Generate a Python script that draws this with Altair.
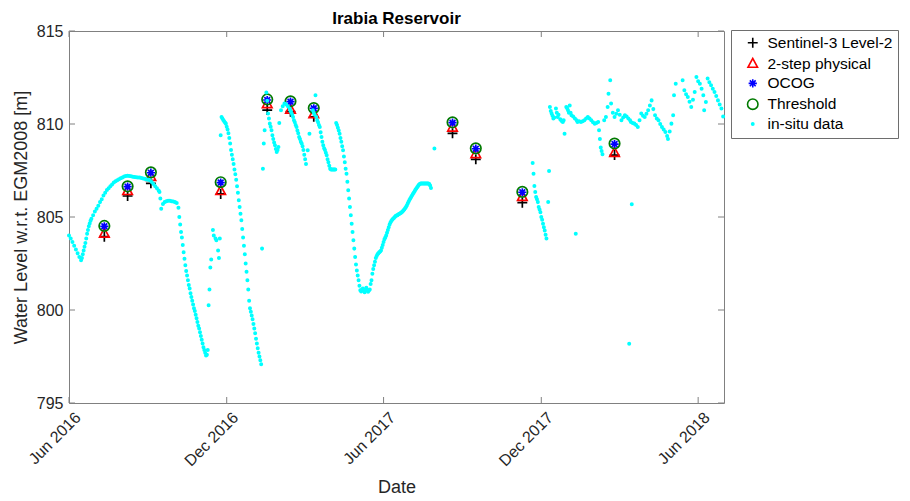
import altair as alt
import pandas as pd

# ---------------- data ----------------
series_names = ["Sentinel-3 Level-2", "2-step physical", "OCOG", "Threshold", "in-situ data"]

sat_dates = ["2016-07-12", "2016-08-08", "2016-09-04", "2016-11-24", "2017-01-17",
             "2017-02-13", "2017-03-12", "2017-08-20", "2017-09-16", "2017-11-09",
             "2018-02-24"]
s3_level2 = [803.94, 806.13, 806.81, 806.24, 810.75, 810.66, 810.39, 809.50, 808.10, 805.77, 808.33]
two_step = [804.12, 806.41, 807.17, 806.41, 811.08, 810.79, 810.54, 809.82, 808.39, 806.09, 808.46]
ocog = [804.50, 806.63, 807.38, 806.85, 811.29, 811.20, 810.84, 810.07, 808.67, 806.33, 808.92]
threshold = [804.52, 806.65, 807.40, 806.87, 811.32, 811.22, 810.86, 810.09, 808.69, 806.35, 808.95]

# in-situ gauge: day offset from 2016-06-01 and level [m]
insitu_start = "2016-06-01"
insitu_day = [
    0, 2, 4, 6, 8, 10, 12, 14, 15, 16, 17, 18, 19, 20, 21, 22, 23, 24, 25, 26, 28, 30, 32, 34, 36,
    38, 40, 42, 44, 46, 48, 50, 52, 54, 56, 58, 60, 62, 64, 66, 68, 70, 72, 74, 76, 78, 80, 82, 84,
    86, 88, 90, 92, 94, 96, 98, 100, 102, 104, 105, 106, 107,
    109, 111, 113, 115, 117, 119, 121, 123, 125,
    127, 128, 129, 130, 131, 132, 133, 134, 135, 136, 137, 138, 139, 140, 141, 142, 143, 144, 145,
    146, 147, 148, 149, 150, 151, 152, 153, 154, 155, 156, 157, 158, 159, 160, 161,
    162, 163, 164, 165, 167, 168, 170, 171, 173, 174, 175, 176,
    177, 178, 179, 180, 181, 182, 183, 184, 185, 186, 187, 188, 189, 190, 191, 192, 193, 194, 195,
    196, 197, 198, 199, 200, 201, 202, 203, 204, 205, 206, 207, 208, 209, 210, 211, 212, 213, 214,
    215, 216, 217, 218, 219, 220, 221, 222, 223, 224,
    225, 226, 227, 229, 230, 231, 232, 233, 234, 235, 236, 237, 238, 239, 240, 241, 242, 243, 244,
    246, 248, 250, 252, 254, 256, 257, 258, 259, 260, 261, 262, 263, 264, 265, 266, 267, 268, 269,
    270, 271, 272, 273, 274, 275, 277, 279, 286,
    283, 284, 285, 287, 288, 289, 290, 291, 292, 293, 294, 295, 296, 297, 298, 299, 300, 301, 302,
    303, 304, 305, 306, 307, 308, 309,
    310, 311, 312, 313, 314, 315, 316, 317, 318, 319, 320, 321, 322, 323, 324, 325, 326, 327, 328,
    329, 330, 331, 332, 333, 334, 335, 336, 337, 338, 339, 340, 341, 342, 343, 344, 345, 346, 347,
    348, 349, 350, 351, 352, 353, 354, 355, 356, 357, 358, 359, 360, 361, 362, 363, 364, 365, 366,
    367, 368, 369, 370, 371, 372, 373, 374, 375, 376, 377, 378, 379, 380, 381, 382, 383, 384, 385,
    386, 387, 388, 389, 390, 391, 392, 393, 394, 395, 396, 397, 398, 399, 400, 401, 402, 403, 404,
    405, 406, 407, 408, 409, 410, 411, 412, 413, 414, 415, 416, 417, 418, 419, 420, 424,
    538, 539, 540, 541, 542, 543, 544, 545, 546, 547, 548, 549, 550, 551, 552, 553, 554, 556, 557, 588,
    558, 559, 560, 561, 562, 563, 565, 566, 567, 568, 570, 571, 572, 573, 574, 575, 577, 578, 579,
    580, 581, 582, 583, 585, 587, 589, 590, 592, 594, 596, 598, 600, 602, 604, 606, 608, 610, 612,
    614, 615, 616, 617, 618, 619, 621, 623, 625, 626, 628, 629, 631, 633, 635, 637, 639, 641, 643,
    645, 647, 649, 650, 651, 652, 653, 654, 656, 658, 660, 662, 664, 666, 668, 670, 672, 674, 676,
    678, 680, 682, 684, 686, 688, 690, 692, 694, 695, 697, 699, 701, 702, 704, 712, 714, 716, 718,
    720, 722, 724, 726, 728, 730, 732, 734, 736, 737, 739, 741, 743, 745, 747, 749, 751, 753, 755,
    757, 759,
]
insitu_level = [
    804.00, 803.85, 803.65, 803.45, 803.25, 803.05, 802.85, 802.67, 802.80, 803.00, 803.20, 803.40,
    803.60, 803.85, 804.10, 804.30, 804.50, 804.65, 804.80, 804.90, 805.10, 805.30, 805.45, 805.60,
    805.80, 805.95, 806.15, 806.30, 806.45, 806.55, 806.65, 806.75, 806.85, 806.92, 806.98, 807.03,
    807.08, 807.13, 807.18, 807.20, 807.22, 807.20, 807.19, 807.17, 807.15, 807.14, 807.13, 807.12,
    807.10, 807.07, 807.05, 807.02, 807.00, 806.97, 806.88, 806.77, 806.65, 806.55, 806.42, 806.34,
    806.00, 805.45,
    805.70, 805.80, 805.85, 805.87, 805.87, 805.85, 805.83, 805.80, 805.75,
    805.50, 805.00, 804.60, 804.20, 803.90, 803.50, 803.10, 802.75, 802.40, 802.10, 801.85, 801.60,
    801.35, 801.15, 800.90, 800.70, 800.50, 800.30, 800.10, 799.95, 799.75, 799.55, 799.35, 799.15,
    799.00, 798.80, 798.60, 798.40, 798.20, 798.00, 797.85, 797.70, 797.55, 797.60, 797.85,
    800.25, 801.10, 802.28, 802.71, 804.30, 804.00, 803.85, 803.75, 803.20, 802.80, 803.84, 809.40,
    810.38, 810.30, 810.22, 810.15, 810.08, 810.02, 809.85, 809.70, 809.50, 809.25, 808.95, 808.60,
    808.35, 808.10, 807.85, 807.55, 807.30, 807.00, 806.65, 806.30, 805.90, 805.54, 805.18, 804.82,
    804.35, 803.90, 803.45, 803.00, 802.50, 802.05, 801.60, 801.10, 800.50, 800.10, 799.90, 799.70,
    799.50, 799.25, 799.00, 798.75, 798.45, 798.20, 797.95, 797.70, 797.50, 797.30, 797.08, 803.30,
    807.60, 808.95, 809.66, 811.70, 811.25, 810.56, 810.30, 810.02, 809.85, 809.66, 809.40, 809.20,
    809.00, 808.86, 808.65, 808.50, 808.60, 808.76, 810.05,
    810.74, 810.95, 811.10, 811.05, 810.95, 810.83, 810.70, 810.60, 810.50, 810.38, 810.20, 810.10,
    809.95, 809.84, 809.65, 809.50, 809.30, 809.20, 809.05, 808.95, 808.80, 808.60, 808.35, 808.10,
    807.85, 808.59, 809.48, 811.54,
    810.74, 810.60, 810.50, 810.38, 810.20, 810.10, 809.95, 809.84, 809.55, 809.30, 809.05, 808.86,
    808.70, 808.60, 808.45, 808.32, 808.10, 807.95, 807.75, 807.60, 807.55, 807.55, 807.55, 807.55,
    807.55, 807.55,
    810.05, 809.95, 809.80, 809.65, 809.48, 809.25, 809.05, 808.80, 808.59, 808.25, 807.95, 807.60,
    807.33, 806.90, 806.44, 806.00, 805.54, 805.10, 804.64, 804.20, 803.75, 803.30, 802.85, 802.45,
    802.13, 801.85, 801.60, 801.30, 801.06, 801.00, 801.10, 801.15, 801.05, 800.95, 801.10, 801.20,
    801.05, 800.98, 801.05, 801.10, 801.40, 801.60, 801.95, 802.20, 802.40, 802.60, 802.80, 802.90,
    803.00, 803.05, 803.10, 803.15, 803.20, 803.35, 803.50, 803.65, 803.80, 803.90, 804.00, 804.15,
    804.30, 804.45, 804.60, 804.70, 804.78, 804.85, 804.90, 804.95, 805.00, 805.05, 805.08, 805.10,
    805.13, 805.16, 805.19, 805.22, 805.26, 805.30, 805.35, 805.40, 805.47, 805.54, 805.62, 805.72,
    805.82, 805.92, 806.00, 806.08, 806.16, 806.24, 806.31, 806.38, 806.46, 806.53, 806.60, 806.67,
    806.73, 806.77, 806.80, 806.80, 806.80, 806.80, 806.80, 806.80, 806.80, 806.80, 806.80, 806.80,
    806.78, 806.70, 806.56, 808.68,
    807.90, 807.33, 806.67, 806.35, 806.08, 805.95, 805.80, 805.54, 805.40, 805.25, 805.00, 804.85,
    804.64, 804.45, 804.28, 804.05, 803.84, 805.81, 807.47, 804.10,
    810.92, 810.70, 810.56, 810.45, 810.29, 810.35, 810.83, 810.60, 810.38, 810.50, 810.25, 810.20,
    810.15, 810.11, 810.20, 809.48, 810.92, 810.85, 810.74, 810.60, 811.00, 810.60, 810.47, 810.40,
    810.29, 810.20, 810.11, 810.15, 810.11, 810.15, 810.20, 810.30, 810.38, 810.30, 810.20, 810.10,
    810.02, 810.05, 810.11, 809.66, 809.20, 808.73, 808.55, 808.37, 810.20, 810.38, 810.92, 811.63,
    812.35, 811.10, 810.60, 810.38, 810.55, 810.74, 810.50, 810.20, 810.35, 810.47, 810.40, 810.29,
    798.19, 810.20, 810.11, 805.68, 810.05, 810.02, 809.95, 809.84, 810.20, 810.56, 810.45, 810.38,
    810.55, 810.74, 811.00, 811.27, 810.80, 810.47, 810.30, 810.20, 810.00, 809.84, 809.70, 809.57,
    809.35, 809.20, 809.60, 810.02, 810.47, 811.54, 812.17, 812.35, 811.81, 811.60, 811.45, 811.20,
    810.92, 811.30, 811.72, 812.53, 812.30, 812.17, 811.90, 811.54, 810.74, 811.18, 812.44, 812.25,
    812.08, 811.90, 811.72, 811.50, 811.27, 811.05, 810.83, 810.40, 810.02,
]

x_tick_dates = ["2016-06-01", "2016-12-01", "2017-06-01", "2017-12-01", "2018-06-01"]
y_tick_values = [795, 800, 805, 810, 815]

# ---------------- table ----------------
rows = []
for name, vals in zip(series_names[:4], [s3_level2, two_step, ocog, threshold]):
    for d, v in zip(sat_dates, vals):
        rows.append({"date": d, "level": v, "series": name})
base_day = pd.Timestamp(insitu_start)
for d, v in zip(insitu_day, insitu_level):
    rows.append({"date": (base_day + pd.Timedelta(days=d)).strftime("%Y-%m-%d"),
                 "level": v, "series": series_names[4]})
df = pd.DataFrame(rows)

FONT = "Liberation Sans"
GRAY = "#808080"
W, H = 655, 372


def utc(s):
    t = pd.Timestamp(s)
    return alt.DateTime(year=t.year, month=t.month, date=t.day, utc=True)


x_scale = alt.Scale(type="utc", domain=[utc("2016-06-01"), utc("2018-07-01")])
y_scale = alt.Scale(domain=[795, 815], nice=False, zero=False)

x_enc = alt.X("date:T", scale=x_scale, title="Date",
              axis=alt.Axis(values=[utc(s) for s in x_tick_dates], format="%b %Y",
                            labelAngle=-45, labelAlign="right", labelBaseline="top",
                            labelPadding=6, labelOffset=3, labelOverlap=False, labelFlush=False,
                            titlePadding=10, titleFontSize=18))
y_enc = alt.Y("level:Q", scale=y_scale, title="Water Level w.r.t. EGM2008 [m]",
              axis=alt.Axis(values=y_tick_values, labelPadding=6, titlePadding=6,
                            titleFontSize=18))

legend = alt.Legend(title=None, orient="none", legendX=662, legendY=-1,
                    padding=5, strokeColor="#6e6e6e", fillColor="white",
                    labelFont=FONT, labelFontSize=15.5, labelColor="#000000",
                    rowPadding=2.8, symbolOffset=9, labelOffset=7, symbolSize=121,
                    symbolStrokeWidth=1.6, cornerRadius=0)

# marker outlines, drawn in a [-1, 1] box
plus_path = "M-0.9,0H0.9M0,-0.9V0.9"
tri_path = "M0,-0.95L0.87,0.68L-0.87,0.68Z"
star_path = "M-0.75,0H0.75M0,-0.75V0.75M-0.53,-0.53L0.53,0.53M-0.53,0.53L0.53,-0.53"
ring_path = "M0.95,0A0.95,0.95 0 1,1 -0.95,0A0.95,0.95 0 1,1 0.95,0Z"
dot_path = "M0.21,0A0.21,0.21 0 1,1 -0.21,0A0.21,0.21 0 1,1 0.21,0Z"

points = alt.Chart(df).mark_point(filled=False, opacity=1, strokeWidth=1.7, size=121).encode(
    x=x_enc,
    y=y_enc,
    color=alt.Color("series:N", legend=legend,
                    scale=alt.Scale(domain=series_names,
                                    range=["#000000", "#ff0000", "#0000ff", "#007a00", "#00ffff"])),
    fill=alt.Fill("series:N", legend=legend,
                  scale=alt.Scale(domain=series_names,
                                  range=["transparent", "transparent", "transparent",
                                         "transparent", "#00ffff"])),
    shape=alt.Shape("series:N", legend=legend,
                    scale=alt.Scale(domain=series_names,
                                    range=[plus_path, tri_path, star_path, ring_path, dot_path])),
)

xt = pd.DataFrame({"date": x_tick_dates})
yt = pd.DataFrame({"level": y_tick_values})
tick_len = 6
bottom_ticks = alt.Chart(xt).mark_rule(color=GRAY).encode(
    x=x_enc, y=alt.value(H), y2=alt.value(H - tick_len))
top_ticks = alt.Chart(xt).mark_rule(color=GRAY).encode(
    x=x_enc, y=alt.value(0), y2=alt.value(tick_len))
left_ticks = alt.Chart(yt).mark_rule(color=GRAY).encode(
    y=y_enc, x=alt.value(0), x2=alt.value(tick_len))
right_ticks = alt.Chart(yt).mark_rule(color=GRAY).encode(
    y=y_enc, x=alt.value(W), x2=alt.value(W - tick_len))

chart = alt.layer(bottom_ticks, top_ticks, left_ticks, right_ticks, points).properties(
    width=W, height=H,
    title=alt.Title("Irabia Reservoir", font=FONT, fontSize=17, fontWeight="bold",
                    color="#000000", anchor="middle", offset=-5),
    autosize=alt.AutoSizeParams(type="none"),
    padding={"left": 61, "top": 23, "right": 178, "bottom": 95},
).configure_view(
    stroke=GRAY, strokeWidth=1
).configure_axis(
    domain=False, ticks=False, grid=False,
    labelFont=FONT, labelFontSize=16, labelColor="#262626",
    titleFont=FONT, titleFontWeight="normal", titleColor="#262626",
)

chart.save("out.html", embed_options={"renderer": "svg", "actions": False})
